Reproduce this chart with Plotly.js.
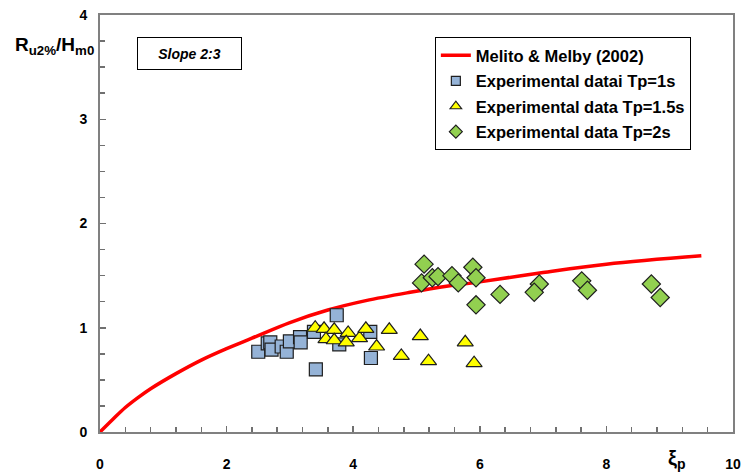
<!DOCTYPE html>
<html>
<head>
<meta charset="utf-8">
<script src="https://cdn.plot.ly/plotly-3.0.1.min.js"></script>
<style>html,body{margin:0;padding:0;background:#fff;}#chart{width:742px;height:473px;}</style>
</head>
<body>
<div id="chart"></div>
<script>
// Melito & Melby (2002) curve
const curveX = [0, 0.2, 0.4, 0.6, 0.8, 1.2, 1.6, 2.0, 2.4, 3.0, 3.6, 4.2, 4.9, 5.5, 6.0, 7.0, 8.0, 9.5];
const curveY = [0, 0.12, 0.235, 0.33, 0.415, 0.56, 0.69, 0.80, 0.90, 1.05, 1.17, 1.26, 1.34, 1.40, 1.44, 1.53, 1.61, 1.69];

// Experimental data Tp=1s (squares)
const t1X = [2.50, 2.65, 2.69, 2.71, 2.87, 2.95, 3.00, 3.16, 3.17, 3.38, 3.41, 3.74, 3.78, 4.27, 4.28];
const t1Y = [0.77, 0.85, 0.86, 0.79, 0.82, 0.77, 0.87, 0.91, 0.86, 0.96, 0.60, 1.12, 0.84, 0.96, 0.71];

// Experimental data Tp=1.5s (triangles)
const t15X = [3.40, 3.54, 3.70, 3.57, 3.70, 3.92, 3.89, 4.10, 4.20, 4.57, 4.37, 4.76, 5.06, 5.19, 5.77, 5.91];
const t15Y = [1.00, 0.99, 0.98, 0.89, 0.88, 0.95, 0.86, 0.90, 0.99, 0.98, 0.82, 0.73, 0.92, 0.68, 0.86, 0.66];

// Experimental data Tp=2s (diamonds)
const t2X = [5.12, 5.08, 5.25, 5.34, 5.56, 5.66, 5.89, 5.94, 5.94, 6.32, 6.94, 6.86, 7.61, 7.70, 8.71, 8.85];
const t2Y = [1.61, 1.43, 1.48, 1.49, 1.50, 1.43, 1.58, 1.48, 1.22, 1.32, 1.42, 1.34, 1.45, 1.36, 1.42, 1.29];

const names = ['Melito & Melby (2002)', 'Experimental datai Tp=1s', 'Experimental data Tp=1.5s', 'Experimental data Tp=2s'];

const FONT = 'Liberation Sans, Arial, sans-serif';

const sqStyle = {symbol: 'square', color: '#95B3D7', line: {color: '#1F1F1F', width: 1.2}};
const trStyle = {symbol: 'triangle-up', color: '#FFFF00', line: {color: '#1F1F1F', width: 1.2}};
const dmStyle = {symbol: 'diamond', color: '#92D050', line: {color: '#1F1F1F', width: 1.2}};

const traces = [
  {x: curveX, y: curveY, mode: 'lines', name: names[0], legendgroup: 'a', line: {color: '#FF0000', width: 3.5, shape: 'spline', smoothing: 1}},
  {x: t1X, y: t1Y, mode: 'markers', showlegend: false, marker: Object.assign({size: 13}, sqStyle)},
  {x: t15X, y: t15Y, mode: 'markers', showlegend: false, marker: Object.assign({size: 14}, trStyle)},
  {x: t2X, y: t2Y, mode: 'markers', showlegend: false, marker: Object.assign({size: 14}, dmStyle)},
  // legend-only entries (no points) so the legend symbols can be small as in the reference
  {x: [null], y: [null], mode: 'markers', name: names[1], legendgroup: 'b', marker: Object.assign({size: 9}, sqStyle)},
  {x: [null], y: [null], mode: 'markers', name: names[2], legendgroup: 'c', marker: Object.assign({size: 10}, trStyle)},
  {x: [null], y: [null], mode: 'markers', name: names[3], legendgroup: 'd', marker: Object.assign({size: 10}, dmStyle)}
];

const axisCommon = {
  showgrid: false, zeroline: false, showline: true, mirror: true,
  linecolor: '#808080', linewidth: 2,
  ticks: 'inside', ticklen: 6, tickwidth: 1.5, tickcolor: '#707070',
  tickmode: 'linear', tick0: 0,
  tickfont: {family: FONT, size: 14, color: '#000', weight: 'bold'}
};

const layout = {
  width: 742, height: 473,
  margin: {l: 100, r: 9, t: 15, b: 41},
  paper_bgcolor: '#fff', plot_bgcolor: '#fff',
  font: {family: FONT},
  showlegend: true,
  legend: {
    x: 0.529, y: 0.947, xanchor: 'left', yanchor: 'top',
    bgcolor: '#fff', bordercolor: '#000', borderwidth: 1,
    font: {family: FONT, size: 16.5, color: '#000', weight: 'bold'},
    traceorder: 'grouped', tracegroupgap: 1,
    itemwidth: 30
  },
  xaxis: Object.assign({}, axisCommon, {
    range: [0, 10], dtick: 2,
    ticklabelstandoff: 18,
    minor: {tickmode: 'linear', tick0: 0, dtick: 0.4, ticks: 'inside', ticklen: 5, tickwidth: 1.5, tickcolor: '#707070', showgrid: false}
  }),
  yaxis: Object.assign({}, axisCommon, {
    range: [0, 4], dtick: 1,
    ticklabelstandoff: 8,
    minor: {tickmode: 'linear', tick0: 0, dtick: 0.25, ticks: 'inside', ticklen: 5, tickwidth: 1.5, tickcolor: '#707070', showgrid: false}
  }),
  annotations: [
    {xref: 'paper', yref: 'paper', x: -0.137, y: 0.925, xanchor: 'left', yanchor: 'middle',
     text: 'R<sub>u2%</sub>/H<sub>m0</sub>', showarrow: false,
     font: {family: FONT, size: 19, color: '#000', weight: 'bold'}},
    {xref: 'paper', yref: 'paper', x: 0.91, y: -0.03, xanchor: 'center', yanchor: 'top',
     text: 'ξ<sub>p</sub>', showarrow: false,
     font: {family: FONT, size: 20, color: '#000', weight: 'bold'}},
    {xref: 'paper', yref: 'paper', x: 0.1414, y: 0.9077, xanchor: 'center', yanchor: 'middle',
     text: '<i>Slope 2:3</i>', showarrow: false, width: 101, height: 29,
     bordercolor: '#000', borderwidth: 1, bgcolor: '#fff',
     font: {family: FONT, size: 14, color: '#000', weight: 'bold'}}
  ]
};

Plotly.newPlot('chart', traces, layout, {displayModeBar: false, staticPlot: true});
</script>
</body>
</html>
